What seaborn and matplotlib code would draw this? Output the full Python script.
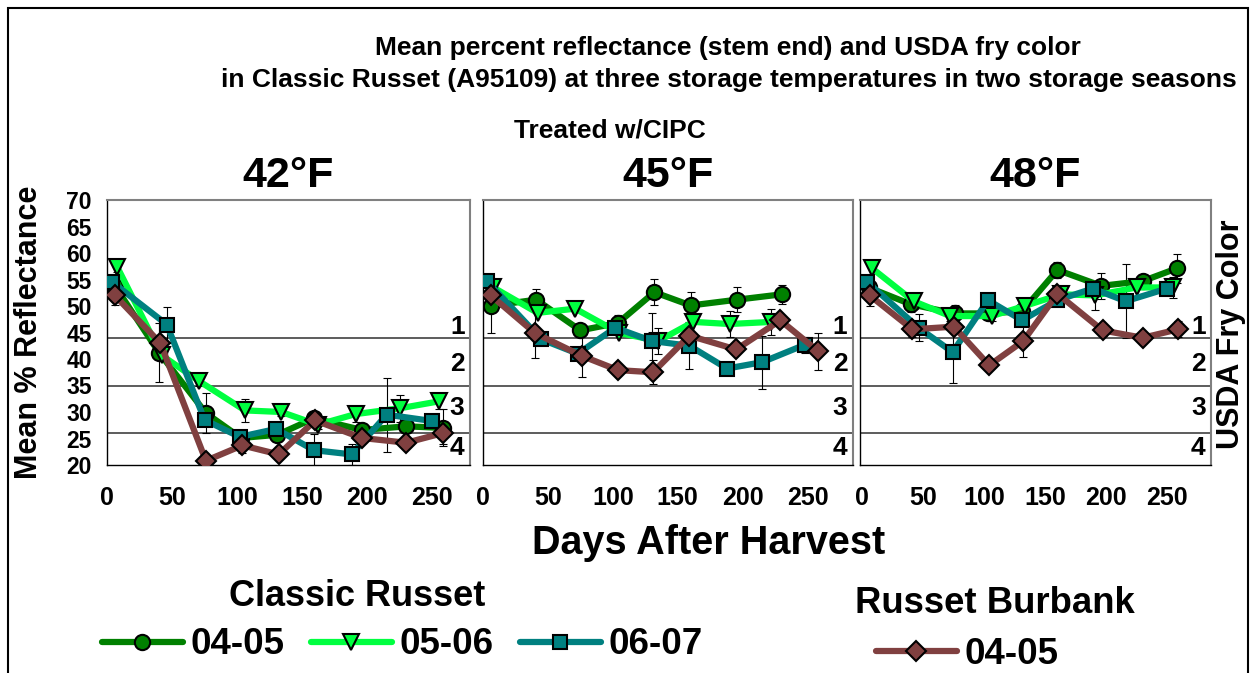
import matplotlib
matplotlib.use("Agg")
import matplotlib.pyplot as plt
from matplotlib.lines import Line2D
from matplotlib.patches import Rectangle
import seaborn as sns

# ---------------- data ----------------
panel_titles = ["42°F", "45°F", "48°F"]
fry_lines = [44, 35, 26]
fry_labels = ["1", "2", "3", "4"]
fry_label_y = [46.0, 39.0, 30.7, 23.3]
y_ticks = [20, 25, 30, 35, 40, 45, 50, 55, 60, 65, 70]
x_ticks = [0, 50, 100, 150, 200, 250]
series_names = ["04-05", "05-06", "06-07", "04-05"]

# 42°F
g42_d = [6, 40, 76, 103, 131, 159, 196, 230, 258]
g42_v = [53.8, 41.2, 29.8, 25.1, 25.7, 28.8, 26.6, 27.3, 27.0]
g42_e = [1.0, 5.6, 3.8, 0.8, 0.8, 0.8, 0.8, 0.8, 3.5]
l42_d = [8, 42, 71, 106, 134, 162, 191, 225, 255]
l42_v = [57.3, 40.7, 35.8, 30.3, 30.0, 27.6, 29.6, 30.7, 32.0]
l42_e = [0.8, 0.8, 0.8, 2.2, 0.8, 0.8, 1.5, 2.5, 1.5]
t42_d = [4, 46, 75, 102, 130, 159, 188, 215, 250]
t42_v = [54.5, 46.5, 28.5, 25.3, 26.8, 22.8, 22.0, 29.5, 28.3]
t42_e = [1.0, 3.4, 0.8, 0.8, 0.8, 3.0, 2.0, 7.0, 0.8]
b42_d = [6, 41, 76, 104, 132, 160, 196, 230, 258]
b42_v = [52.0, 43.0, 20.8, 23.7, 22.0, 28.4, 25.1, 24.2, 26.0]
b42_e = [1.8, 0.8, 0.8, 1.5, 0.8, 0.8, 0.8, 0.8, 2.0]

# 45°F
g45_d = [6, 41, 75, 104, 132, 160, 196, 230]
g45_v = [50.0, 51.2, 45.4, 46.8, 52.6, 50.1, 51.2, 52.2]
g45_e = [5.0, 2.0, 0.0, 1.5, 2.5, 2.5, 2.4, 1.8]
l45_d = [8, 42, 71, 105, 135, 162, 190, 222]
l45_v = [53.5, 48.7, 49.5, 44.9, 43.4, 47.0, 46.6, 47.0]
l45_e = [0.0, 0.0, 0.5, 0.0, 2.5, 0.0, 2.5, 2.5]
t45_d = [3, 45, 73, 102, 130, 159, 188, 215, 248]
t45_v = [54.7, 43.7, 41.0, 45.9, 43.4, 42.5, 38.2, 39.4, 42.7]
t45_e = [0.0, 0.0, 0.0, 0.0, 5.3, 4.4, 0.0, 5.0, 1.5]
b45_d = [6, 40, 76, 104, 131, 159, 195, 229, 258]
b45_v = [52.0, 44.9, 40.6, 37.9, 37.5, 44.4, 41.8, 47.3, 41.5]
b45_e = [0.0, 4.8, 4.0, 0.0, 2.3, 0.0, 0.0, 0.0, 3.5]

# 48°F
g48_d = [5, 40, 76, 103, 131, 160, 196, 230, 258]
g48_v = [53.5, 50.3, 48.6, 48.6, 49.0, 56.8, 53.8, 54.7, 57.1]
g48_e = [0.0, 1.5, 1.5, 0.0, 1.5, 1.5, 2.5, 0.0, 2.7]
l48_d = [8, 42, 72, 106, 133, 163, 191, 225, 255]
l48_v = [57.1, 50.9, 48.1, 48.1, 50.0, 52.2, 52.0, 53.5, 53.5]
l48_e = [0.0, 1.5, 1.0, 1.0, 1.5, 0.0, 2.8, 0.0, 2.0]
t48_d = [4, 46, 74, 103, 131, 160, 189, 216, 250]
t48_v = [54.5, 45.9, 41.3, 51.1, 47.3, 51.1, 53.3, 50.9, 53.3]
t48_e = [0.0, 2.5, 5.8, 0.0, 0.0, 0.0, 0.0, 7.0, 0.0]
b48_d = [6, 41, 75, 104, 132, 160, 197, 230, 259]
b48_v = [52.0, 45.6, 46.1, 38.8, 43.4, 52.3, 45.4, 44.0, 45.6]
b48_e = [2.0, 1.5, 0.0, 0.0, 3.0, 1.5, 1.0, 0.0, 1.5]

# ---------------- style ----------------
sns.set_style("white")
plt.rcParams["font.family"] = ["Liberation Sans", "DejaVu Sans"]
plt.rcParams["font.weight"] = "bold"
plt.rcParams["text.color"] = "black"
plt.rcParams["xtick.color"] = "black"
plt.rcParams["ytick.color"] = "black"
plt.rcParams["axes.labelcolor"] = "black"

C_G = "#008000"
C_L = "#00ff40"
C_T = "#008080"
C_B = "#804040"
styles = [
    dict(color=C_G, marker="o", ms=11),
    dict(color=C_L, marker="v", ms=11.5),
    dict(color=C_T, marker="s", ms=10),
    dict(color=C_B, marker="D", ms=10),
]

W, H = 1253, 673
fig = plt.figure(figsize=(W / 100, H / 100), dpi=100)


def fx(px):
    return px / W


def fy(py):
    return 1 - py / H


panel_px = [(107, 470, 0, 279), (483, 853, 0, 285), (860, 1211, -2, 286)]
panel_data = [
    [(g42_d, g42_v, g42_e), (l42_d, l42_v, l42_e), (t42_d, t42_v, t42_e), (b42_d, b42_v, b42_e)],
    [(g45_d, g45_v, g45_e), (l45_d, l45_v, l45_e), (t45_d, t45_v, t45_e), (b45_d, b45_v, b45_e)],
    [(g48_d, g48_v, g48_e), (l48_d, l48_v, l48_e), (t48_d, t48_v, t48_e), (b48_d, b48_v, b48_e)],
]
top_px, bot_px = 200, 465

for i, ((l, r, x0, x1), data) in enumerate(zip(panel_px, panel_data)):
    ax = fig.add_axes([fx(l), fy(bot_px), (r - l) / W, (bot_px - top_px) / H])
    ax.set_facecolor("white")
    for yv in fry_lines:
        ax.axhline(yv, color="#303030", lw=1.1, zorder=1)
    for (d, v, e), st in zip(data, styles):
        ax.errorbar(d, v, yerr=e, fmt="none", ecolor="black", elinewidth=0.8,
                    capsize=3, capthick=0.8, zorder=2)
    for k, ((d, v, e), st) in enumerate(zip(data, styles)):
        sns.lineplot(x=d, y=v, ax=ax, sort=False, color=st["color"], lw=4.5,
                     marker=st["marker"], markersize=st["ms"], markerfacecolor=st["color"],
                     markeredgecolor="black", markeredgewidth=1.5, zorder=3 + k)
    ax.set_xlim(x0, x1)
    ax.set_ylim(20, 70)
    ax.set_xticks(x_ticks)
    ax.set_yticks(y_ticks)
    ax.set_xlabel("")
    ax.set_ylabel("")
    ax.tick_params(axis="both", direction="inout", length=6, width=1, color="black",
                   labelcolor="black")
    ax.tick_params(axis="x", labelsize=18, pad=12)
    ax.tick_params(axis="y", labelsize=16.5, pad=8)
    for lab in ax.get_xticklabels() + ax.get_yticklabels():
        lab.set_fontweight("bold")
    if i > 0:
        ax.set_yticklabels([])
    for side in ["left", "bottom"]:
        ax.spines[side].set_color("black")
        ax.spines[side].set_linewidth(1.0)
    for side in ["top", "right"]:
        ax.spines[side].set_color("#808080")
        ax.spines[side].set_linewidth(1.5)
    for lab, yv in zip(fry_labels, fry_label_y):
        ax.text(0.985, yv, lab, transform=ax.get_yaxis_transform(), ha="right",
                va="center", fontsize=19, fontweight="bold", zorder=10)
    fig.text(fx((l + r) / 2), fy(187), panel_titles[i], ha="center", va="baseline",
             fontsize=31, fontweight="bold")

# ---------------- text ----------------
fig.text(fx(728), fy(55), "Mean percent reflectance (stem end) and USDA fry color",
         ha="center", va="baseline", fontsize=19, fontweight="bold")
fig.text(fx(729), fy(87),
         "in Classic Russet (A95109) at three storage temperatures in two storage seasons",
         ha="center", va="baseline", fontsize=19, fontweight="bold")
fig.text(fx(610), fy(137), "Treated w/CIPC", ha="center", va="baseline",
         fontsize=19, fontweight="bold")
fig.text(fx(709), fy(554), "Days After Harvest", ha="center", va="baseline",
         fontsize=28.5, fontweight="bold")
fig.text(fx(29), fy(332), "Mean % Reflectance", ha="center", va="center",
         rotation=90, fontsize=22, fontweight="bold")
fig.text(fx(1231), fy(334), "USDA Fry Color", ha="center", va="center",
         rotation=90, fontsize=22, fontweight="bold")
fig.text(fx(357), fy(606), "Classic Russet", ha="center", va="baseline",
         fontsize=26, fontweight="bold")
fig.text(fx(995), fy(613), "Russet Burbank", ha="center", va="baseline",
         fontsize=26.3, fontweight="bold")

# ---------------- legends ----------------
def handle(st):
    return Line2D([], [], color=st["color"], lw=4.5, marker=st["marker"],
                  markersize=st["ms"], markerfacecolor=st["color"],
                  markeredgecolor="black", markeredgewidth=1.5)


leg_kw = dict(frameon=False, prop={"weight": "bold", "size": 26.5}, handlelength=2.2,
              handletextpad=0.2, columnspacing=0.72, borderpad=0, borderaxespad=0,
              loc="center left")
fig.legend(handles=[handle(s) for s in styles[:3]], labels=series_names[:3], ncol=3,
           bbox_to_anchor=(fx(102), fy(645)), **leg_kw)
fig.legend(handles=[handle(styles[3])], labels=[series_names[3]], ncol=1,
           bbox_to_anchor=(fx(876), fy(654)), **leg_kw)

# outer frame
fig.patches.append(Rectangle((fx(8), -0.02), fx(1248) - fx(8), fy(8) + 0.02,
                             transform=fig.transFigure, fill=False, ec="black",
                             lw=1.5, zorder=0))

fig.savefig("out.png", dpi=100, facecolor="white")
